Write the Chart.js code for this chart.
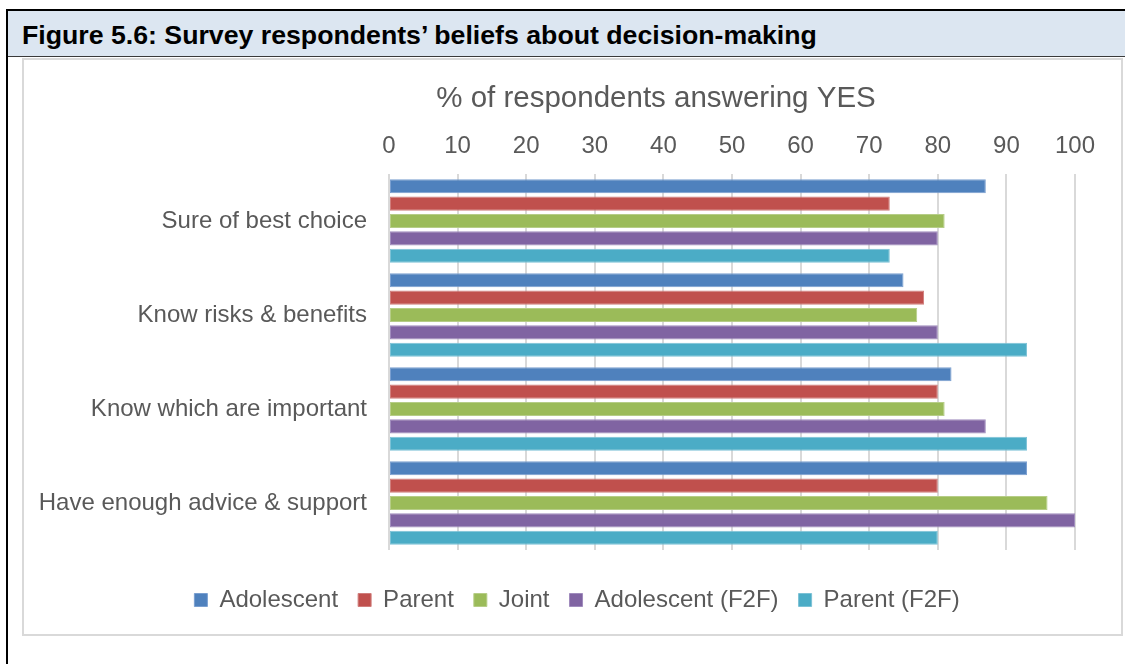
<!DOCTYPE html>
<html lang="en">

<head>
    <meta charset="UTF-8">
    <title>Figure 5.6</title>
    <style>
        body {
            margin: 0;
            background-color: #fff;
            font-family: "Liberation Sans", Arial, sans-serif;
            overflow: hidden;
        }

        /* black frame round the figure */
        .frame {
            position: absolute;
            left: 6px;
            top: 9px;
            width: 1200px;
            height: 700px;
            border-left: 2px solid #000;
            border-top: 2px solid #000;
        }

        .heading {
            position: absolute;
            left: 8px;
            top: 11px;
            width: 1200px;
            height: 46px;
            background-color: #dce6f1;
            border-bottom: 1px solid #3a3a3a;
            font-weight: bold;
            font-size: 26.7px;
            line-height: 48px;
            padding-left: 14px;
            color: #000;
            box-sizing: border-box;
        }

        .chart-box {
            position: absolute;
            left: 22px;
            top: 58px;
            width: 1101px;
            height: 578px;
            border: 2px solid #d9d9d9;
            box-sizing: border-box;
        }

        canvas {
            position: absolute;
            left: 24px;
            top: 60px;
        }
    </style>
</head>

<body>
    <div class="frame"></div>
    <div class="heading">Figure 5.6: Survey respondents’ beliefs about decision-making</div>
    <div class="chart-box"></div>
    <canvas id="chart" width="1097" height="574"></canvas>

    <script src="https://cdn.jsdelivr.net/npm/chart.js"></script>
    <script>
        // questions (one group of bars each)
        const categories = ['Sure of best choice', 'Know risks & benefits', 'Know which are important', 'Have enough advice & support'];

        // % answering YES, per respondent group
        const adolescent = [87, 75, 82, 93];
        const parent = [73, 78, 80, 80];
        const joint = [81, 77, 81, 96];
        const adolescentF2F = [80, 80, 87, 100];
        const parentF2F = [73, 93, 93, 80];

        const seriesNames = ['Adolescent', 'Parent', 'Joint', 'Adolescent (F2F)', 'Parent (F2F)'];
        const seriesData = [adolescent, parent, joint, adolescentF2F, parentF2F];
        const cores = ['#4f81bd', '#c0504d', '#9bbb59', '#8064a2', '#4bacc6'];
        const bordas = ['#7a9fd0', '#d07e7c', '#b6cd87', '#a08cbd', '#7cc2d6'];

        const xMin = 0;
        const xMax = 100;
        const xStep = 10;

        const axisTitle = '% of respondents answering YES';

        const textColor = '#595959';
        const fonte = "'Liberation Sans', Arial, sans-serif";

        const datasets = seriesNames.map((name, i) => ({
            label: name,
            data: seriesData[i],
            xAxisID: 'x',
            yAxisID: 'y',
            backgroundColor: cores[i],
            borderColor: bordas[i],
            borderWidth: 1,
            borderSkipped: false,
            categoryPercentage: 0.925,
            barPercentage: 0.81
        }));

        // axis title sits a little left of the plot centre, so it is drawn here
        const tituloEixo = {
            id: 'tituloEixo',
            afterDraw(chart) {
                const c = chart.ctx;
                c.save();
                c.fillStyle = textColor;
                c.font = '29.5px ' + fonte;
                c.textAlign = 'center';
                c.textBaseline = 'middle';
                c.fillText(axisTitle, 632, 38.5);
                c.restore();
            }
        };

        // blank axes that only reserve room round the plot
        const espaco = (axis, position, size) => ({
            type: 'linear',
            axis: axis,
            position: position,
            ticks: { display: false },
            grid: { display: false, drawTicks: false },
            border: { display: false },
            afterFit: scale => {
                if (axis === 'x') scale.height = size; else scale.width = size;
            }
        });

        const ctx = document.getElementById('chart').getContext('2d');
        new Chart(ctx, {
            type: 'bar',
            data: {
                labels: categories,
                datasets: datasets
            },
            plugins: [tituloEixo],
            options: {
                indexAxis: 'y',
                responsive: false,
                animation: false,
                layout: {
                    padding: { left: 9, right: 0, top: 0, bottom: 12 }
                },
                scales: {
                    x: {
                        position: 'top',
                        min: xMin,
                        max: xMax,
                        ticks: {
                            stepSize: xStep,
                            color: textColor,
                            font: { family: fonte, size: 24 },
                            padding: 13
                        },
                        grid: {
                            color: '#d9d9d9',
                            lineWidth: 2,
                            drawTicks: false
                        },
                        border: { display: false },
                        afterFit: scale => { scale.height = 114; }
                    },
                    y: {
                        type: 'category',
                        ticks: {
                            color: textColor,
                            font: { family: fonte, size: 24 },
                            padding: 22
                        },
                        grid: { display: false, drawTicks: false },
                        border: { display: false },
                        afterFit: scale => { scale.width = 356; }
                    },
                    espacoBaixo: espaco('x', 'bottom', 18),
                    espacoDireita: espaco('y', 'right', 46)
                },
                plugins: {
                    legend: {
                        position: 'bottom',
                        labels: {
                            color: textColor,
                            font: { family: fonte, size: 24 },
                            boxWidth: 13,
                            boxHeight: 13,
                            padding: 20
                        }
                    },
                    tooltip: { enabled: false }
                }
            }
        });
    </script>
</body>

</html>
